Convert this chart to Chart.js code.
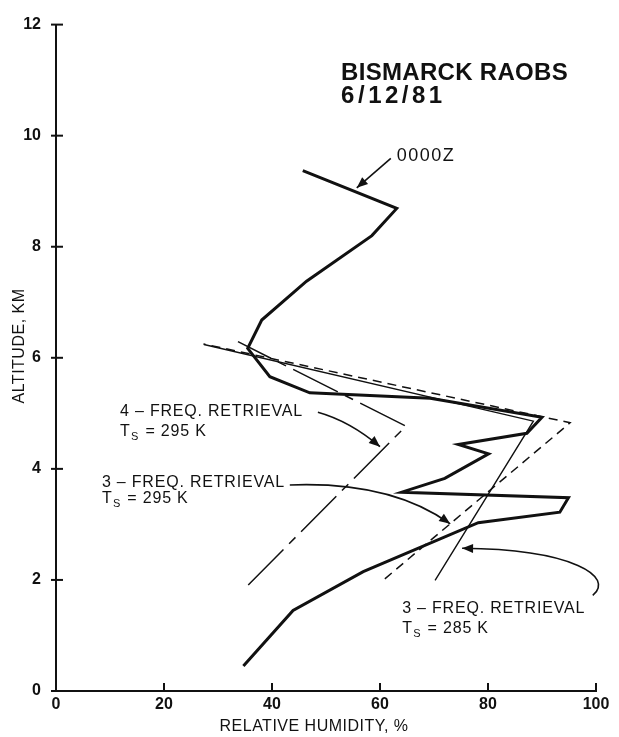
<!DOCTYPE html>
<html>
<head>
<meta charset="utf-8">
<script src="https://cdn.jsdelivr.net/npm/chart.js@4/dist/chart.umd.min.js"></script>
<style>
  html, body { margin: 0; padding: 0; background: #fff; }
  #wrap { width: 619px; height: 737px; }
</style>
</head>
<body>
<div id="wrap"><canvas id="c" width="619" height="737"></canvas></div>
<script>
// Bismarck radiosonde humidity profile (0000Z) and three retrievals
const xTicks = [0, 20, 40, 60, 80, 100];
const yTicks = [0, 2, 4, 6, 8, 10, 12];

// 0000Z sounding: relative humidity (%) vs altitude (km)
const rhObs  = [34.7, 43.9, 56.9, 78.2, 93.3, 94.9, 64.0, 72.0, 80.1, 74.5, 87.2, 90.0, 69.3, 47.0, 39.6, 35.5, 38.1, 46.4, 58.5, 63.1, 45.7];
const altObs = [0.45, 1.45, 2.15, 3.03, 3.22, 3.48, 3.58, 3.83, 4.27, 4.44, 4.64, 4.93, 5.27, 5.37, 5.66, 6.17, 6.68, 7.38, 8.20, 8.69, 9.37];

// 3-frequency retrieval, Ts = 295 K
const rh3f295  = [60.9, 95.2, 27.3];
const alt3f295 = [2.02, 4.83, 6.25];

// 3-frequency retrieval, Ts = 285 K
const rh3f285  = [70.2, 88.4, 27.4];
const alt3f285 = [1.99, 4.86, 6.24];

// 4-frequency retrieval, Ts = 295 K
const rh4f295  = [35.6, 64.8, 33.7];
const alt4f295 = [1.91, 4.77, 6.29];

const INK = '#111';
const FONT = '"Liberation Sans", Arial, Helvetica, sans-serif';

function pts(xs, ys) { return xs.map((x, i) => ({ x: x, y: ys[i] })); }

function arrowHead(ctx, from, to, len, half) {
  const a = Math.atan2(to.y - from.y, to.x - from.x);
  ctx.beginPath();
  ctx.moveTo(to.x, to.y);
  ctx.lineTo(to.x - len * Math.cos(a) + half * Math.sin(a), to.y - len * Math.sin(a) - half * Math.cos(a));
  ctx.lineTo(to.x - len * Math.cos(a) - half * Math.sin(a), to.y - len * Math.sin(a) + half * Math.cos(a));
  ctx.closePath();
  ctx.fill();
}

function tsLine(ctx, x, y, rest) {
  ctx.font = '16px ' + FONT;
  ctx.fillText('T', x, y);
  const w = ctx.measureText('T').width + 0.5;
  ctx.font = '11px ' + FONT;
  ctx.fillText('S', x + w, y + 4);
  const w2 = ctx.measureText('S').width + 1;
  ctx.font = '16px ' + FONT;
  ctx.fillText(rest, x + w + w2, y);
}

// inward tick marks on both axes
const tickMarks = {
  id: 'tickMarks',
  afterDraw(chart) {
    const { ctx, chartArea: a, scales: { x, y } } = chart;
    ctx.save();
    ctx.strokeStyle = INK;
    ctx.lineWidth = 2;
    yTicks.forEach(v => {
      const py = y.getPixelForValue(v);
      ctx.beginPath();
      ctx.moveTo(a.left - 5, py);
      ctx.lineTo(a.left + 7, py);
      ctx.stroke();
    });
    xTicks.forEach(v => {
      if (v === 0) return;
      const px = x.getPixelForValue(v);
      ctx.beginPath();
      ctx.moveTo(px, a.bottom);
      ctx.lineTo(px, a.bottom - 8);
      ctx.stroke();
    });
    ctx.restore();
  }
};

// titles, curve labels and their arrows
const annotations = {
  id: 'annotations',
  afterDraw(chart) {
    const { ctx, chartArea: a, scales: { x, y } } = chart;
    const P = (u, v) => ({ x: x.getPixelForValue(u), y: y.getPixelForValue(v) });
    ctx.save();
    ctx.fillStyle = INK;
    ctx.strokeStyle = INK;
    ctx.textBaseline = 'alphabetic';

    // heading
    ctx.textAlign = 'left';
    ctx.font = 'bold 24px ' + FONT;
    ctx.letterSpacing = '0.3px';
    let p = P(52.8, 11.01);
    ctx.fillText('BISMARCK RAOBS', p.x, p.y);
    ctx.letterSpacing = '3.5px';
    p = P(52.8, 10.58);
    ctx.fillText('6/12/81', p.x, p.y);

    // axis titles
    ctx.letterSpacing = '0.5px';
    ctx.font = '16px ' + FONT;
    ctx.textAlign = 'center';
    ctx.fillText('RELATIVE HUMIDITY, %', 314, 731);
    ctx.save();
    ctx.translate(24, 346);
    ctx.rotate(-Math.PI / 2);
    ctx.fillText('ALTITUDE, KM', 0, 0);
    ctx.restore();

    // 0000Z
    ctx.textAlign = 'left';
    ctx.font = '18px ' + FONT;
    ctx.letterSpacing = '1.5px';
    p = P(63.1, 9.55);
    ctx.fillText('0000Z', p.x, p.y);
    ctx.lineWidth = 1.6;
    let s = P(62.0, 9.59), e = P(55.7, 9.06);
    ctx.beginPath(); ctx.moveTo(s.x, s.y); ctx.lineTo(e.x, e.y); ctx.stroke();
    arrowHead(ctx, s, e, 11, 4.5);

    // 4-frequency label
    ctx.font = '16px ' + FONT;
    ctx.letterSpacing = '0.8px';
    p = P(11.85, 4.95);
    ctx.fillText('4 \u2013 FREQ. RETRIEVAL', p.x, p.y);
    p = P(11.85, 4.59);
    tsLine(ctx, p.x, p.y, ' = 295 K');
    s = P(48.5, 5.02); let c = P(54.4, 4.86); e = P(60.0, 4.40);
    ctx.beginPath(); ctx.moveTo(s.x, s.y); ctx.quadraticCurveTo(c.x, c.y, e.x, e.y); ctx.stroke();
    arrowHead(ctx, c, e, 11, 4.5);

    // 3-frequency, 295 K label
    p = P(8.5, 3.68);
    ctx.fillText('3 \u2013 FREQ. RETRIEVAL', p.x, p.y);
    p = P(8.5, 3.39);
    tsLine(ctx, p.x, p.y, ' = 295 K');
    s = P(43.3, 3.71); c = P(62.0, 3.78); e = P(73.0, 3.01);
    ctx.beginPath(); ctx.moveTo(s.x, s.y); ctx.quadraticCurveTo(c.x, c.y, e.x, e.y); ctx.stroke();
    arrowHead(ctx, c, e, 11, 4.5);

    // 3-frequency, 285 K label
    p = P(64.1, 1.40);
    ctx.fillText('3 \u2013 FREQ. RETRIEVAL', p.x, p.y);
    p = P(64.1, 1.05);
    tsLine(ctx, p.x, p.y, ' = 285 K');
    s = P(99.4, 1.72);
    const c1 = P(103.5, 2.05), c2 = P(96.0, 2.55);
    e = P(75.2, 2.57);
    ctx.beginPath(); ctx.moveTo(s.x, s.y); ctx.bezierCurveTo(c1.x, c1.y, c2.x, c2.y, e.x, e.y); ctx.stroke();
    arrowHead(ctx, c2, e, 11, 4.5);

    ctx.restore();
  }
};

const tickFont = { family: FONT, size: 16, weight: 'bold' };

new Chart(document.getElementById('c'), {
  type: 'scatter',
  data: {
    datasets: [
      { label: '4-freq 295 K', data: pts(rh4f295, alt4f295), showLine: true, borderColor: INK, borderWidth: 1.5, borderDash: [50, 8, 9, 8], pointRadius: 0, tension: 0 },
      { label: '3-freq 295 K', data: pts(rh3f295, alt3f295), showLine: true, borderColor: INK, borderWidth: 1.5, borderDash: [9, 6], pointRadius: 0, tension: 0 },
      { label: '3-freq 285 K', data: pts(rh3f285, alt3f285), showLine: true, borderColor: INK, borderWidth: 1.4, pointRadius: 0, tension: 0 },
      { label: '0000Z', data: pts(rhObs, altObs), showLine: true, borderColor: INK, borderWidth: 3, borderJoinStyle: 'miter', pointRadius: 0, tension: 0 }
    ]
  },
  options: {
    responsive: false,
    animation: false,
    events: [],
    layout: { padding: { left: 0, right: 23, top: 15, bottom: 0 } },
    plugins: { legend: { display: false }, tooltip: { enabled: false } },
    scales: {
      x: {
        type: 'linear', min: 0, max: 100,
        afterBuildTicks: s => { s.ticks = xTicks.map(v => ({ value: v })); },
        afterFit: s => { s.height = 46; },
        ticks: { font: tickFont, color: INK, padding: 4, maxRotation: 0, autoSkip: false },
        grid: { display: false, drawTicks: false },
        border: { display: true, width: 2, color: INK }
      },
      y: {
        type: 'linear', min: 0, max: 12,
        afterBuildTicks: s => { s.ticks = yTicks.map(v => ({ value: v })); },
        afterFit: s => { s.width = 56; },
        ticks: { font: tickFont, color: INK, padding: 15, autoSkip: false },
        grid: { display: false, drawTicks: false },
        border: { display: true, width: 2, color: INK }
      }
    }
  },
  plugins: [tickMarks, annotations]
});
</script>
</body>
</html>
